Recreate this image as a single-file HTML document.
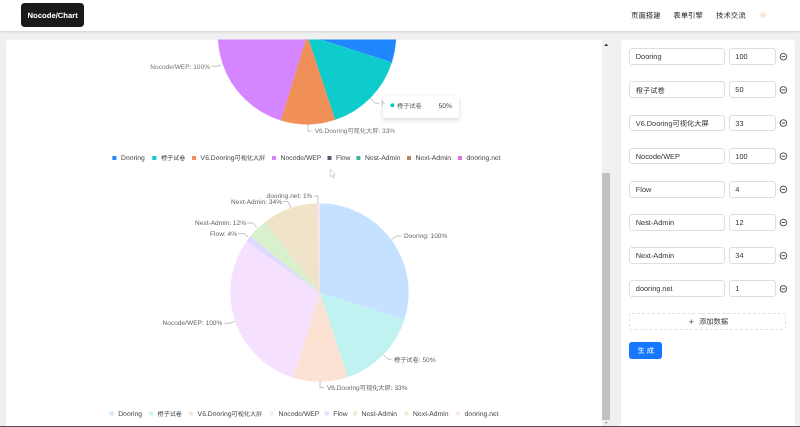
<!DOCTYPE html>
<html><head><meta charset="utf-8"><title>Nocode/Chart</title>
<style>
html,body{margin:0;padding:0;width:800px;height:427px;overflow:hidden}
body{width:800px;height:427px;overflow:hidden;background:#f0f0f0;position:relative;font-family:"Liberation Sans","Noto Sans CJK SC",sans-serif}
.hdr{position:absolute;left:0;top:0;width:800px;height:31px;background:#fff;box-shadow:0 0.5px 2.5px rgba(0,0,0,.13)}
.logo{position:absolute;left:21px;top:3px;width:63px;height:23.8px;background:#1a1a1a;border-radius:4px;color:#fff;font-weight:bold;font-size:7.7px;line-height:25.3px;text-align:center;text-rendering:geometricPrecision}
.card{position:absolute;left:5.7px;top:39.5px;width:596.3px;height:387.5px;background:#fff;border-radius:3px 0 0 0}
.sb{position:absolute;left:602px;top:39px;width:8px;height:388px;background:#f1f1f1}
.thumb{position:absolute;left:602px;top:172.5px;width:8px;height:247px;background:#c1c1c1}
.panel{position:absolute;left:621px;top:39.6px;width:174px;height:387.4px;background:#fff;border-radius:3px 3px 0 0}
.inp{position:absolute;height:16.7px;box-sizing:border-box;border:1px solid #dedede;border-radius:3px;background:#fff}
.bot{position:absolute;left:0;top:425.5px;width:800px;height:1.5px;background:#4e4e4e}
svg.ov{position:absolute;left:0;top:0;will-change:transform;font-family:"Liberation Sans","Noto Sans CJK SC",sans-serif;text-rendering:geometricPrecision}
</style></head><body>
<div class="hdr"></div>
<div class="logo"></div>
<div class="card"></div>
<div class="sb"></div><div class="thumb"></div>
<div class="panel"></div>
<div class="inp" style="left:629px;top:48.2px;width:96px"></div><div class="inp" style="left:729px;top:48.2px;width:47px"></div><div class="inp" style="left:629px;top:81.4px;width:96px"></div><div class="inp" style="left:729px;top:81.4px;width:47px"></div><div class="inp" style="left:629px;top:114.5px;width:96px"></div><div class="inp" style="left:729px;top:114.5px;width:47px"></div><div class="inp" style="left:629px;top:147.7px;width:96px"></div><div class="inp" style="left:729px;top:147.7px;width:47px"></div><div class="inp" style="left:629px;top:180.9px;width:96px"></div><div class="inp" style="left:729px;top:180.9px;width:47px"></div><div class="inp" style="left:629px;top:214.1px;width:96px"></div><div class="inp" style="left:729px;top:214.1px;width:47px"></div><div class="inp" style="left:629px;top:247.2px;width:96px"></div><div class="inp" style="left:729px;top:247.2px;width:47px"></div><div class="inp" style="left:629px;top:280.4px;width:96px"></div><div class="inp" style="left:729px;top:280.4px;width:47px"></div><div style="position:absolute;left:629.2px;top:313px;width:157.3px;height:16.6px;box-sizing:border-box;border:1px dashed #e2e2e2;border-radius:3px"></div><div style="position:absolute;left:629.2px;top:342.4px;width:33px;height:16.5px;background:#1677ff;border-radius:3px"></div>
<svg class="ov" width="800" height="427" viewBox="0 0 800 427"><clipPath id="cl"><rect x="5.7" y="39.5" width="596.3" height="388"/></clipPath><g clip-path="url(#cl)"><g opacity="1"><path d="M307.00 35.30L307.00 -53.70A89.00 89.00 0 0 1 391.75 62.48Z" fill="#2087ff" stroke="#2087ff" stroke-width="0.35"/><path d="M307.00 35.30L391.75 62.48A89.00 89.00 0 0 1 334.98 119.79Z" fill="#0fcccc" stroke="#0fcccc" stroke-width="0.35"/><path d="M307.00 35.30L334.98 119.79A89.00 89.00 0 0 1 280.61 120.30Z" fill="#f08f57" stroke="#f08f57" stroke-width="0.35"/><path d="M307.00 35.30L280.61 120.30A89.00 89.00 0 0 1 234.12 -15.79Z" fill="#d585ff" stroke="#d585ff" stroke-width="0.35"/><path d="M307.00 35.30L234.12 -15.79A89.00 89.00 0 0 1 238.17 -21.12Z" fill="#7863FF" stroke="#7863FF" stroke-width="0.35"/><path d="M307.00 35.30L238.17 -21.12A89.00 89.00 0 0 1 252.54 -35.10Z" fill="#60C42D" stroke="#60C42D" stroke-width="0.35"/><path d="M307.00 35.30L252.54 -35.10A89.00 89.00 0 0 1 305.33 -53.68Z" fill="#BD8F24" stroke="#BD8F24" stroke-width="0.35"/><path d="M307.00 35.30L305.33 -53.68A89.00 89.00 0 0 1 307.00 -53.70Z" fill="#FF80CA" stroke="#FF80CA" stroke-width="0.35"/></g></g><text x="150.29" y="68.56" font-size="6.55" fill="#777" xml:space="preserve">Nocode/WEP: 100%</text><polyline points="211.50,66.20 217.00,66.20 221.00,65.00" fill="none" stroke="#999" stroke-width="0.6"/><polyline points="370.20,98.10 375.20,103.20 379.30,103.20" fill="none" stroke="#999" stroke-width="0.6"/><text x="314.68" y="133.46" font-size="6.55" fill="#777" xml:space="preserve">V6.Dooring</text><text x="347.45" y="133.46" font-size="6.2" fill="#777">可视化大屏</text><text x="378.45" y="133.46" font-size="6.55" fill="#777" xml:space="preserve">: 33%</text><polyline points="308.00,124.20 308.00,131.20 311.30,131.20" fill="none" stroke="#999" stroke-width="0.6"/><rect x="112.40" y="156.00" width="4" height="4" fill="#2087ff" opacity="1"/><text x="121.00" y="160.45" font-size="6.80" fill="#444" xml:space="preserve">Dooring</text><rect x="152.30" y="156.00" width="4" height="4" fill="#0fcccc" opacity="1"/><text x="160.90" y="160.32" font-size="6.1" fill="#444">橙子试卷</text><rect x="192.00" y="156.00" width="4" height="4" fill="#f08f57" opacity="1"/><text x="200.60" y="160.45" font-size="6.80" fill="#444" xml:space="preserve">V6.Dooring</text><text x="234.62" y="160.32" font-size="6.1" fill="#444">可视化大屏</text><rect x="272.00" y="156.00" width="4" height="4" fill="#d585ff" opacity="1"/><text x="280.60" y="160.45" font-size="6.80" fill="#444" xml:space="preserve">Nocode/WEP</text><rect x="327.50" y="156.00" width="4" height="4" fill="#5d5470" opacity="1"/><text x="336.10" y="160.45" font-size="6.80" fill="#444" xml:space="preserve">Flow</text><rect x="356.40" y="156.00" width="4" height="4" fill="#3db39e" opacity="1"/><text x="365.00" y="160.45" font-size="6.80" fill="#444" xml:space="preserve">Nest-Admin</text><rect x="407.00" y="156.00" width="4" height="4" fill="#b8865c" opacity="1"/><text x="415.60" y="160.45" font-size="6.80" fill="#444" xml:space="preserve">Next-Admin</text><rect x="458.00" y="156.00" width="4" height="4" fill="#e070e8" opacity="1"/><text x="466.60" y="160.45" font-size="6.80" fill="#444" xml:space="preserve">dooring.net</text><g opacity="0.245"><path d="M319.50 292.50L319.50 203.50A89.00 89.00 0 0 1 404.25 319.68Z" fill="#1783FF" stroke="#1783FF" stroke-width="0.35"/><path d="M319.50 292.50L404.25 319.68A89.00 89.00 0 0 1 347.48 376.99Z" fill="#00C9C9" stroke="#00C9C9" stroke-width="0.35"/><path d="M319.50 292.50L347.48 376.99A89.00 89.00 0 0 1 293.11 377.50Z" fill="#F0884D" stroke="#F0884D" stroke-width="0.35"/><path d="M319.50 292.50L293.11 377.50A89.00 89.00 0 0 1 246.62 241.41Z" fill="#D580FF" stroke="#D580FF" stroke-width="0.35"/><path d="M319.50 292.50L246.62 241.41A89.00 89.00 0 0 1 250.67 236.08Z" fill="#7863FF" stroke="#7863FF" stroke-width="0.35"/><path d="M319.50 292.50L250.67 236.08A89.00 89.00 0 0 1 265.04 222.10Z" fill="#60C42D" stroke="#60C42D" stroke-width="0.35"/><path d="M319.50 292.50L265.04 222.10A89.00 89.00 0 0 1 317.83 203.52Z" fill="#BD8F24" stroke="#BD8F24" stroke-width="0.35"/><path d="M319.50 292.50L317.83 203.52A89.00 89.00 0 0 1 319.50 203.50Z" fill="#FF80CA" stroke="#FF80CA" stroke-width="0.35"/></g><text x="266.52" y="198.36" font-size="6.55" fill="#666" xml:space="preserve">dooring.net: 1%</text><polyline points="314.00,196.00 318.00,196.00 318.00,203.00" fill="none" stroke="#999" stroke-width="0.6"/><text x="231.04" y="203.86" font-size="6.55" fill="#666" xml:space="preserve">Next-Admin: 34%</text><polyline points="283.00,201.50 288.00,201.50 291.00,208.00" fill="none" stroke="#999" stroke-width="0.6"/><text x="195.04" y="225.36" font-size="6.55" fill="#666" xml:space="preserve">Nest-Admin: 12%</text><polyline points="247.00,223.00 253.00,223.00 257.00,228.00" fill="none" stroke="#999" stroke-width="0.6"/><text x="210.06" y="235.96" font-size="6.55" fill="#666" xml:space="preserve">Flow: 4%</text><polyline points="238.00,233.60 244.00,233.60 248.00,237.00" fill="none" stroke="#999" stroke-width="0.6"/><text x="404.00" y="238.16" font-size="6.55" fill="#666" xml:space="preserve">Dooring: 100%</text><polyline points="391.50,239.60 396.30,236.10 401.50,236.10" fill="none" stroke="#999" stroke-width="0.6"/><text x="162.59" y="325.26" font-size="6.55" fill="#666" xml:space="preserve">Nocode/WEP: 100%</text><polyline points="224.50,323.30 230.00,323.30 234.70,321.20" fill="none" stroke="#999" stroke-width="0.6"/><text x="394.00" y="361.66" font-size="6.2" fill="#666">橙子试卷</text><text x="418.80" y="361.66" font-size="6.55" fill="#666" xml:space="preserve">: 50%</text><polyline points="383.70,355.00 388.00,359.30 391.50,359.30" fill="none" stroke="#999" stroke-width="0.6"/><text x="327.00" y="389.86" font-size="6.55" fill="#666" xml:space="preserve">V6.Dooring</text><text x="359.77" y="389.86" font-size="6.2" fill="#666">可视化大屏</text><text x="390.77" y="389.86" font-size="6.55" fill="#666" xml:space="preserve">: 33%</text><polyline points="320.00,381.00 320.00,387.50 324.00,387.50" fill="none" stroke="#999" stroke-width="0.6"/><rect x="109.60" y="411.50" width="4" height="4" fill="#1783FF" opacity="0.2"/><text x="118.20" y="415.95" font-size="6.80" fill="#444" xml:space="preserve">Dooring</text><rect x="149.00" y="411.50" width="4" height="4" fill="#00C9C9" opacity="0.2"/><text x="157.60" y="415.82" font-size="6.1" fill="#444">橙子试卷</text><rect x="189.00" y="411.50" width="4" height="4" fill="#F0884D" opacity="0.2"/><text x="197.60" y="415.95" font-size="6.80" fill="#444" xml:space="preserve">V6.Dooring</text><text x="231.62" y="415.82" font-size="6.1" fill="#444">可视化大屏</text><rect x="270.00" y="411.50" width="4" height="4" fill="#D580FF" opacity="0.2"/><text x="278.60" y="415.95" font-size="6.80" fill="#444" xml:space="preserve">Nocode/WEP</text><rect x="324.75" y="411.50" width="4" height="4" fill="#7863FF" opacity="0.2"/><text x="333.35" y="415.95" font-size="6.80" fill="#444" xml:space="preserve">Flow</text><rect x="353.00" y="411.50" width="4" height="4" fill="#60C42D" opacity="0.2"/><text x="361.60" y="415.95" font-size="6.80" fill="#444" xml:space="preserve">Nest-Admin</text><rect x="404.50" y="411.50" width="4" height="4" fill="#BD8F24" opacity="0.2"/><text x="413.10" y="415.95" font-size="6.80" fill="#444" xml:space="preserve">Next-Admin</text><rect x="456.00" y="411.50" width="4" height="4" fill="#FF80CA" opacity="0.2"/><text x="464.60" y="415.95" font-size="6.80" fill="#444" xml:space="preserve">dooring.net</text></svg>
<div style="position:absolute;left:382.5px;top:96.3px;width:76px;height:22px;background:#fff;border-radius:2px;box-shadow:0 2px 5px rgba(0,0,0,.16)"></div>
<svg class="ov" width="800" height="427" viewBox="0 0 800 427"><circle cx="392.4" cy="105.3" r="2" fill="#00C9C9"/><text x="397.00" y="107.96" font-size="6.2" fill="#666">橙子试卷</text><text x="438.59" y="108.01" font-size="6.70" fill="#444" xml:space="preserve">50%</text><path d="M382.4 100.2V105.7M382.6 102.2L384.6 103.4" stroke="#999" stroke-width="0.6" fill="none"/><path d="M330.2 169L330.2 177L332 175.4L333.4 178.3L334.3 177.9L333 175L335.6 175Z" fill="#fff" stroke="#bbb" stroke-width="0.6"/><text x="635.80" y="59.30" font-size="7.35" fill="#333" xml:space="preserve">Dooring</text><text x="735.30" y="59.30" font-size="7.35" fill="#333" xml:space="preserve">100</text><circle cx="783.4" cy="56.70" r="3.35" fill="none" stroke="#2a2a2a" stroke-width="0.85"/><path d="M781.6 56.70H785.2" stroke="#2a2a2a" stroke-width="0.85"/><text x="635.80" y="92.58" font-size="7.25" fill="#333">橙子试卷</text><text x="735.30" y="92.47" font-size="7.35" fill="#333" xml:space="preserve">50</text><circle cx="783.4" cy="89.87" r="3.35" fill="none" stroke="#2a2a2a" stroke-width="0.85"/><path d="M781.6 89.87H785.2" stroke="#2a2a2a" stroke-width="0.85"/><text x="635.80" y="125.64" font-size="7.35" fill="#333" xml:space="preserve">V6.Dooring</text><text x="672.57" y="125.75" font-size="7.25" fill="#333">可视化大屏</text><text x="735.30" y="125.64" font-size="7.35" fill="#333" xml:space="preserve">33</text><circle cx="783.4" cy="123.04" r="3.35" fill="none" stroke="#2a2a2a" stroke-width="0.85"/><path d="M781.6 123.04H785.2" stroke="#2a2a2a" stroke-width="0.85"/><text x="635.80" y="158.81" font-size="7.35" fill="#333" xml:space="preserve">Nocode/WEP</text><text x="735.30" y="158.81" font-size="7.35" fill="#333" xml:space="preserve">100</text><circle cx="783.4" cy="156.21" r="3.35" fill="none" stroke="#2a2a2a" stroke-width="0.85"/><path d="M781.6 156.21H785.2" stroke="#2a2a2a" stroke-width="0.85"/><text x="635.80" y="191.98" font-size="7.35" fill="#333" xml:space="preserve">Flow</text><text x="735.30" y="191.98" font-size="7.35" fill="#333" xml:space="preserve">4</text><circle cx="783.4" cy="189.38" r="3.35" fill="none" stroke="#2a2a2a" stroke-width="0.85"/><path d="M781.6 189.38H785.2" stroke="#2a2a2a" stroke-width="0.85"/><text x="635.80" y="225.15" font-size="7.35" fill="#333" xml:space="preserve">Nest-Admin</text><text x="735.30" y="225.15" font-size="7.35" fill="#333" xml:space="preserve">12</text><circle cx="783.4" cy="222.55" r="3.35" fill="none" stroke="#2a2a2a" stroke-width="0.85"/><path d="M781.6 222.55H785.2" stroke="#2a2a2a" stroke-width="0.85"/><text x="635.80" y="258.32" font-size="7.35" fill="#333" xml:space="preserve">Next-Admin</text><text x="735.30" y="258.32" font-size="7.35" fill="#333" xml:space="preserve">34</text><circle cx="783.4" cy="255.72" r="3.35" fill="none" stroke="#2a2a2a" stroke-width="0.85"/><path d="M781.6 255.72H785.2" stroke="#2a2a2a" stroke-width="0.85"/><text x="635.80" y="291.49" font-size="7.35" fill="#333" xml:space="preserve">dooring.net</text><text x="735.30" y="291.49" font-size="7.35" fill="#333" xml:space="preserve">1</text><circle cx="783.4" cy="288.89" r="3.35" fill="none" stroke="#2a2a2a" stroke-width="0.85"/><path d="M781.6 288.89H785.2" stroke="#2a2a2a" stroke-width="0.85"/><path d="M689 321.7H693.6M691.3 319.4V324" stroke="#333" stroke-width="0.6"/><text x="699.00" y="324.45" font-size="7.25" fill="#333">添加数据</text><text x="637.50" y="353.36" font-size="7.25" fill="#fff">生</text><text x="646.80" y="353.36" font-size="7.25" fill="#fff">成</text><text x="52.7" y="18.25" font-size="7.7" font-weight="bold" fill="#fff" text-anchor="middle">Nocode/Chart</text><text x="631.00" y="18.41" font-size="7.4" fill="#222">页面搭建</text><text x="673.30" y="18.41" font-size="7.4" fill="#222">表单引擎</text><text x="716.00" y="18.41" font-size="7.4" fill="#222">技术交流</text><g stroke="#f4c29b" stroke-width="0.7" fill="none"><circle cx="763.1" cy="14.9" r="1.5"/><path d="M765.40 14.90L766.40 14.90"/><path d="M764.73 16.53L765.43 17.23"/><path d="M763.10 17.20L763.10 18.20"/><path d="M761.47 16.53L760.77 17.23"/><path d="M760.80 14.90L759.80 14.90"/><path d="M761.47 13.27L760.77 12.57"/><path d="M763.10 12.60L763.10 11.60"/><path d="M764.73 13.27L765.43 12.57"/></g><path d="M604 46L606.2 43.6L608.4 46Z" fill="#444"/><path d="M604.8 422L606.2 423.8L607.6 422Z" fill="#8a8a8a"/></svg>
<div class="bot"></div>
</body></html>
